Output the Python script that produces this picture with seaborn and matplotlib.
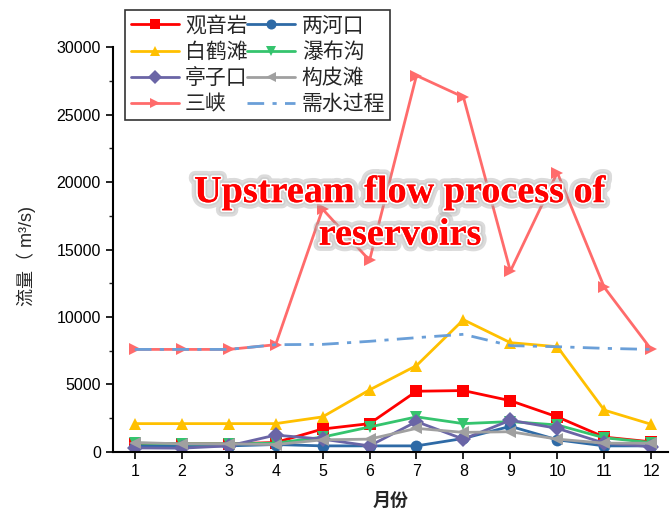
import matplotlib
matplotlib.use("Agg")
import matplotlib.pyplot as plt
import matplotlib.patheffects as pe
from matplotlib.ticker import MultipleLocator
import seaborn as sns
import pandas as pd

months = [1, 2, 3, 4, 5, 6, 7, 8, 9, 10, 11, 12]

guanyinyan = [600, 600, 600, 700, 1700, 2100, 4500, 4550, 3800, 2600, 1100, 750]
lianghekou = [450, 450, 450, 550, 450, 450, 450, 1000, 1900, 900, 450, 450]
baihetan = [2100, 2100, 2100, 2100, 2600, 4600, 6400, 9800, 8100, 7800, 3100, 2050]
pubugou = [650, 600, 600, 650, 1100, 1850, 2600, 2100, 2250, 2000, 1050, 700]
tingzikou = [300, 280, 450, 1250, 950, 450, 2250, 950, 2350, 1750, 650, 400]
goupitan = [700, 600, 600, 550, 900, 950, 1750, 1450, 1500, 950, 650, 650]
sanxia = [7600, 7600, 7600, 7950, 18000, 14200, 27900, 26300, 13400, 20700, 12200, 7600]
demand = [7600, 7600, 7600, 7950, 7975, 8200, 8470, 8720, 7880, 7800, 7680, 7600]

series = [
    ("观音岩", guanyinyan, "#FF0000", "s", "-"),
    ("两河口", lianghekou, "#2E6AA6", "o", "-"),
    ("白鹤滩", baihetan, "#FFC000", "^", "-"),
    ("瀑布沟", pubugou, "#35C46E", "v", "-"),
    ("亭子口", tingzikou, "#6A65A6", "D", "-"),
    ("构皮滩", goupitan, "#A0A0A0", "<", "-"),
    ("三峡", sanxia, "#FF6B6B", ">", "-"),
    ("需水过程", demand, "#6A9FD8", None, (0, (6, 3, 1.5, 3))),
]

sns.set_style("ticks")
plt.rcParams["font.family"] = ["Liberation Sans", "Noto Sans CJK SC", "DejaVu Sans"]
plt.rcParams["axes.unicode_minus"] = False

fig = plt.figure(figsize=(6.71, 5.13), dpi=100)
ax = fig.add_axes([0.168, 0.119, 0.827, 0.789])

for name, vals, color, marker, ls in series:
    df = pd.DataFrame({"month": months, "flow": vals})
    kw = dict(marker=marker, markersize=8.5, markeredgewidth=0) if marker else {}
    sns.lineplot(data=df, x="month", y="flow", ax=ax, color=color, linewidth=2,
                 linestyle=ls, label=name, **kw)

ax.set_xlim(0.53, 12.35)
ax.set_ylim(0, 30000)
ax.set_xticks(months)
ax.yaxis.set_major_locator(MultipleLocator(5000))
ax.yaxis.set_minor_locator(MultipleLocator(2500))
ax.tick_params(axis="both", which="major", direction="out", length=5, width=1.2,
               labelsize=11.5, colors="black")
ax.tick_params(axis="y", which="minor", direction="out", length=3, width=1)
for s in ["top", "right"]:
    ax.spines[s].set_visible(False)
for s in ["left", "bottom"]:
    ax.spines[s].set_linewidth(1.5)
    ax.spines[s].set_color("black")

ax.set_xlabel("月份", fontsize=13, fontweight="bold", labelpad=10)
ax.set_ylabel("流量（ m³/s)", fontsize=13, labelpad=15)
ax.yaxis.label.set_y(0.484)

# two-column legend filled row by row
handles, labels = ax.get_legend_handles_labels()
order = [0, 2, 4, 6, 1, 3, 5, 7]
leg = ax.legend([handles[i] for i in order], [labels[i] for i in order],
                ncol=2, loc="upper left", bbox_to_anchor=(0.023, 1.093),
                fontsize=15, frameon=True, fancybox=False, edgecolor="black",
                handlelength=2.3, handletextpad=0.3, columnspacing=0.0,
                labelspacing=0.2, borderpad=0.25, borderaxespad=0,
                markerscale=0.85)
leg.get_frame().set_linewidth(1.2)
for t in leg.get_texts():
    t.set_fontfamily(["Noto Sans CJK SC", "DejaVu Sans"])

title_fx = [pe.withStroke(linewidth=9, foreground="#9a9a9a", alpha=0.35),
            pe.withStroke(linewidth=5, foreground="#c8c8c8", alpha=0.6),
            pe.withStroke(linewidth=2.5, foreground="white"),
            pe.Normal()]
fig.text(0.596, 0.583, "Upstream flow process of\nreservoirs", ha="center",
         va="center", fontsize=27.5, fontweight="bold", color="#FF0000",
         family="Liberation Serif", linespacing=1.28, path_effects=title_fx)

fig.savefig("out.png", dpi=100)
